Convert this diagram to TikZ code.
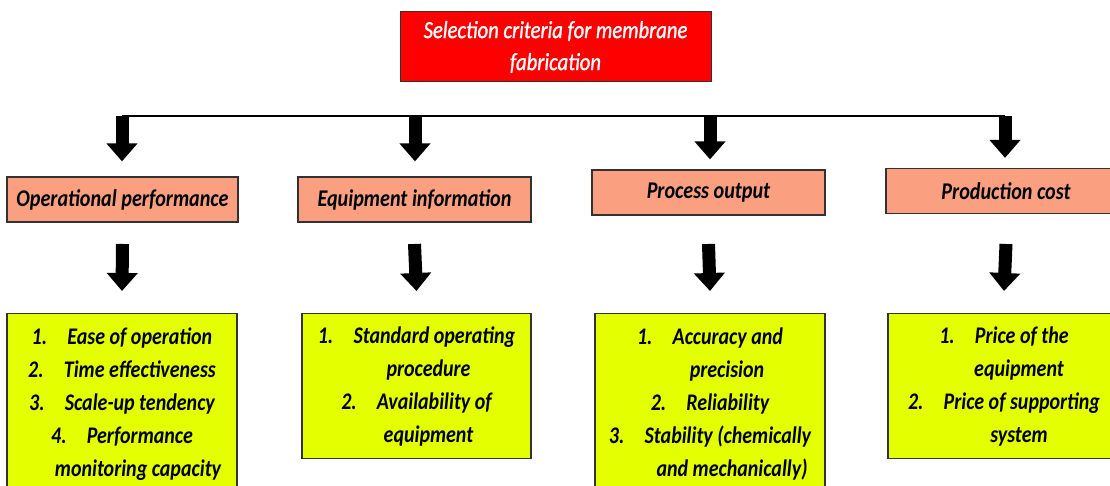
\documentclass[tikz,border=0pt]{standalone}
\usepackage{fontspec}
\setmainfont{Carlito}
\newfontfamily\tallfont[FakeStretch=0.84]{Carlito}
\newfontfamily\topfont[FakeStretch=0.84,FakeBold=1.2]{Carlito}
\usetikzlibrary{arrows.meta,calc}
\definecolor{topred}{RGB}{255,0,0}
\definecolor{salmon}{RGB}{250,160,128}
\definecolor{lime}{RGB}{228,255,0}
\definecolor{edge}{RGB}{50,50,50}
\newcommand{\numgap}{\hspace{0.85em}}
\begin{document}
\begin{tikzpicture}[x=1pt,y=1pt,
  topbox/.style={draw=edge, line width=1pt, fill=topred, text=white,
    font=\topfont\fontsize{24.6}{32}\selectfont\itshape, minimum width=311pt,
    minimum height=70pt, align=center, inner sep=0pt},
  headbox/.style={draw=edge, line width=1.2pt, fill=salmon,
    font=\tallfont\fontsize{24}{26}\selectfont\bfseries\itshape, minimum height=45pt, inner sep=0pt},
  listbox/.style={draw=edge, line width=1.2pt, fill=lime,
    font=\tallfont\fontsize{23.8}{33}\selectfont\bfseries\itshape, align=center,
    anchor=north, inner sep=0pt},
  bigarrow/.style={line width=13pt, -{Triangle[width=30pt,length=18pt]}},
  hline/.style={line width=2pt},
]
\useasboundingbox (0,0) rectangle (1110,486);
\clip (0,0) rectangle (1110,486);
\fill[white] (0,0) rectangle (1110,486);

\node[topbox] (top) at (555.5,439) {Selection criteria for membrane\\fabrication};

\coordinate (h1) at (122,370);
\coordinate (h2) at (415,370);
\coordinate (h3) at (710,370);
\coordinate (h4) at (1005,370);
\draw[hline] (h1) -- (h4);

\node[headbox, minimum width=231pt] (o1) at (122.5,286.5) {Operational performance};
\node[headbox, minimum width=233pt] (o2) at (414.5,286.5) {Equipment information};
\node[headbox, minimum width=233pt] (o3) at (708.5,293.5) {Process output};
\node[headbox, minimum width=240pt] (o4) at (1006,295) {Production cost};

\node[listbox, minimum width=230pt, minimum height=181pt] (y1) at (122,173) {%
1.\numgap Ease of operation\\
2.\numgap Time effectiveness\\
3.\numgap Scale-up tendency\\
4.\numgap Performance\\
\hspace*{32pt}monitoring capacity};
\node[listbox, minimum width=229pt, minimum height=145pt] (y2) at (416.5,173) {%
1.\numgap Standard operating\\
\hspace*{24pt}procedure\\
2.\numgap Availability of\\
\hspace*{24pt}equipment};
\node[listbox, minimum width=230pt, minimum height=181pt] (y3) at (710,173) {%
1.\numgap Accuracy and\\
\hspace*{34pt}precision\\
2.\numgap Reliability\\
3.\numgap Stability (chemically\\
\hspace*{44pt}and mechanically)};
\node[listbox, minimum width=232pt, minimum height=145pt] (y4) at (1004,173) {%
1.\numgap Price of the\\
\hspace*{30pt}equipment\\
2.\numgap Price of supporting\\
\hspace*{30pt}system};

\draw[bigarrow] (h1) -- ($(h1 |- o1.north)+(0,15)$);
\draw[bigarrow] (h2) -- ($(h2 |- o2.north)+(0,15)$);
\draw[bigarrow] (h3) -- ($(h3 |- o3.north)+(0,10)$);
\draw[bigarrow] (h4) -- ($(h4 |- o4.north)+(0,10)$);

\draw[bigarrow] (o1.south |- 0,242) -- ($(y1.north)+(0,22)$);
\draw[bigarrow] (o2.south |- 0,242) -- ($(y2.north)+(0,22)$);
\draw[bigarrow] (o3.south |- 0,242) -- ($(y3.north)+(0,22)$);
\draw[bigarrow] (o4.south |- 0,242) -- ($(y4.north)+(0,22)$);
\end{tikzpicture}
\end{document}
